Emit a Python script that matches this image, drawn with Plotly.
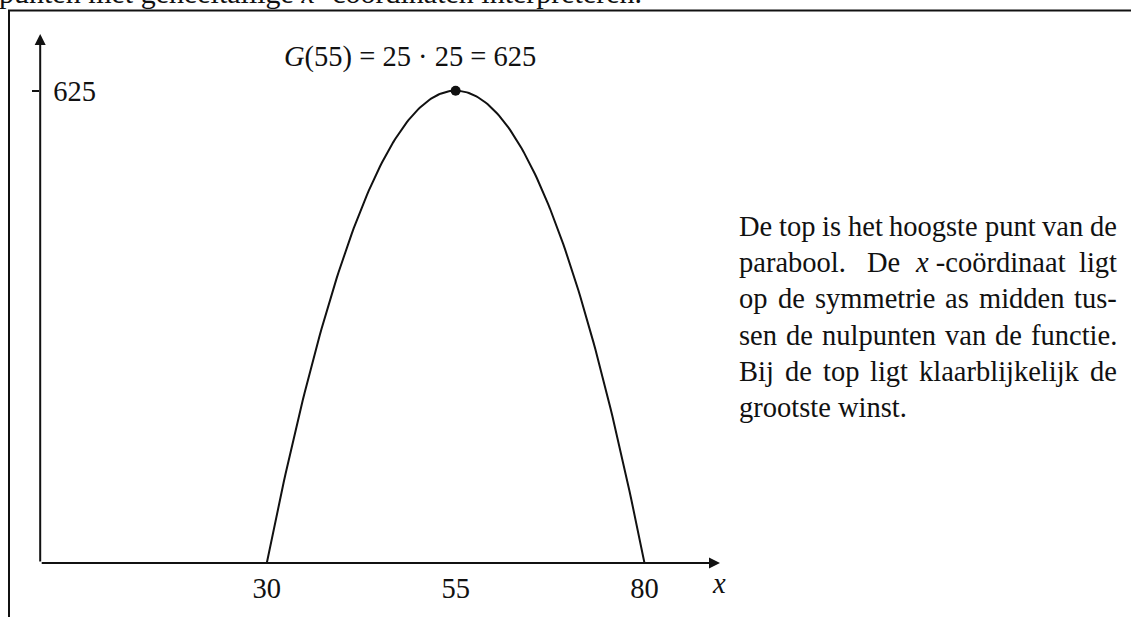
import plotly.graph_objects as go

# Winstfunctie G(x) = (x - 30)(80 - x): nulpunten en top
roots = [30, 80]
vertex_x = [55]
vertex_y = [625]
x_tick_vals = [30, 55, 80]
x_tick_text = ["30", "55", "80"]
y_tick_vals = [625]
y_tick_text = ["625"]

title_text = "<i>G</i>(55) = 25 · 25 = 625"
intro_text = "punten met geheeltallige <i>x</i> -coördinaten interpreteren."
paragraph = [
    ["De", "top", "is", "het", "hoogste", "punt", "van", "de"],
    ["parabool.", "De", "<i>x</i> -coördinaat", "ligt"],
    ["op", "de", "symmetrie", "as", "midden", "tus-"],
    ["sen", "de", "nulpunten", "van", "de", "functie."],
    ["Bij", "de", "top", "ligt", "klaarblijkelijk", "de"],
    ["grootste", "winst."],
]

W, H = 1131, 617
FONT = "Liberation Serif, Times New Roman, serif"
FS = 28.5
X_MAX, Y_MAX = 90, 700

# Times-Roman advance widths (1/1000 em) used to justify the text block
ADV = {" ": 250, ".": 250, "-": 333, "a": 444, "b": 500, "c": 444, "d": 500, "e": 444,
       "f": 333, "g": 500, "h": 500, "i": 278, "j": 278, "k": 500, "l": 278, "m": 778,
       "n": 500, "o": 500, "p": 500, "q": 500, "r": 333, "s": 389, "t": 278, "u": 500,
       "v": 500, "w": 722, "x": 500, "y": 500, "z": 444, "B": 667, "D": 722, "ö": 500}


def word_width(word):
    italic_x = word.count("<i>x</i>")
    plain = word.replace("<i>x</i>", "")
    return (sum(ADV.get(c, 500) for c in plain) + 444 * italic_x) * FS / 1000


# parabola sampled between the roots
n = 200
xs = [roots[0] + (roots[1] - roots[0]) * i / n for i in range(n + 1)]
ys = [(x - roots[0]) * (roots[1] - x) for x in xs]

fig = go.Figure()
fig.add_trace(go.Scatter(x=xs, y=ys, mode="lines",
                         line=dict(color="#111", width=2), cliponaxis=False,
                         hoverinfo="skip"))
fig.add_trace(go.Scatter(x=vertex_x, y=vertex_y, mode="markers",
                         marker=dict(color="#111", size=10), cliponaxis=False))


def px(x):
    return x / W


def py(y):
    return 1 - y / H


def text_font(size=FS):
    return dict(family=FONT, size=size, color="#111")


ann = []
# axes drawn as arrows
ann.append(dict(x=X_MAX, y=0, ax=0, ay=0, xref="x", yref="y", axref="x", ayref="y",
                text="", showarrow=True, arrowhead=2, arrowsize=1.1, arrowwidth=2,
                arrowcolor="#111"))
ann.append(dict(x=0, y=Y_MAX, ax=0, ay=0, xref="x", yref="y", axref="x", ayref="y",
                text="", showarrow=True, arrowhead=2, arrowsize=1.1, arrowwidth=2,
                arrowcolor="#111"))
ann.append(dict(x=px(719), y=py(583), xref="paper", yref="paper", text="<i>x</i>",
                xanchor="center", yanchor="middle", showarrow=False, font=text_font()))
ann.append(dict(x=px(410), y=py(57), xref="paper", yref="paper", text=title_text,
                xanchor="center", yanchor="middle", showarrow=False, font=text_font()))
ann.append(dict(x=px(-2), y=py(-25), xref="paper", yref="paper", text=intro_text,
                xanchor="left", yanchor="top", showarrow=False, borderpad=0,
                font=text_font(30)))

# justified paragraph: left edge 738, right edge 1116, 36 px leading
LEFT, RIGHT, TOP, LEAD = 738, 1116, 227, 36
for i, words in enumerate(paragraph):
    widths = [word_width(w) for w in words]
    weights = [1.5 if w.endswith(".") else 1.0 for w in words[:-1]]
    if i < len(paragraph) - 1:
        unit = (RIGHT - LEFT - sum(widths)) / sum(weights)
    else:
        unit = 250 * FS / 1000
    xpos = LEFT
    for j, w in enumerate(words):
        ann.append(dict(x=px(xpos), y=py(TOP + LEAD * i), xref="paper", yref="paper",
                        text=w, xanchor="left", yanchor="middle", showarrow=False,
                        borderpad=0, font=text_font()))
        if j < len(weights):
            xpos += widths[j] + unit * weights[j]

shapes = [
    # frame
    dict(type="line", xref="paper", yref="paper", x0=px(8), x1=1, y0=py(10.5), y1=py(10.5),
         line=dict(color="#111", width=2)),
    dict(type="line", xref="paper", yref="paper", x0=px(9), x1=px(9), y0=0, y1=py(10.5),
         line=dict(color="#111", width=2)),
    # tick below the axis at the vertex
    dict(type="line", xref="x", yref="y", x0=vertex_x[0], x1=vertex_x[0], y0=0, y1=-7,
         line=dict(color="#111", width=2)),
]

x0_px, x1_px = 40.2, 720.0
y0_px, y1_px = 563.0, 34.0
fig.update_layout(
    width=W, height=H, margin=dict(l=0, r=0, t=0, b=0),
    paper_bgcolor="white", plot_bgcolor="white", showlegend=False,
    annotations=ann, shapes=shapes,
    xaxis=dict(domain=[x0_px / W, x1_px / W], range=[0, X_MAX], showgrid=False,
               zeroline=False, showline=False, tickvals=x_tick_vals, ticktext=x_tick_text,
               ticks="", ticklabelstandoff=5, tickfont=text_font()),
    yaxis=dict(domain=[1 - y0_px / H, 1 - y1_px / H], range=[0, Y_MAX], showgrid=False,
               zeroline=False, showline=False, tickvals=y_tick_vals, ticktext=y_tick_text,
               ticks="outside", ticklen=7, tickwidth=2, tickcolor="#111",
               ticklabelposition="inside", ticklabelstandoff=10,
               tickfont=text_font()),
)

fig.write_html("out.html")
